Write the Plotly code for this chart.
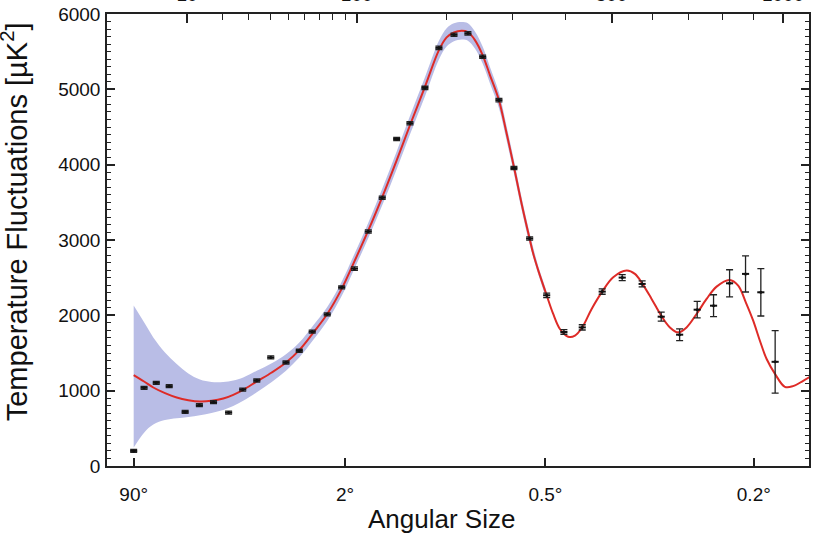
import plotly.graph_objects as go

# ---- measured band powers (multipole l, temperature fluctuations in uK^2, 1-sigma error)
data_l = [2, 3, 4.5, 6.5, 9.6, 13, 17, 22, 27.4, 33.5, 40.3, 48.6, 56.6, 65.1, 75.9, 87.2,
          98, 110.6, 124.2, 139.3, 154.1, 171.9, 189.6, 209.8, 229.6, 251.7, 277.6, 302.8,
          330.6, 362.4, 396.4, 434.6, 478.6, 525.3, 574.4, 623.9, 674, 724, 772.5, 821.9,
          872.9, 923.5, 972.4]
data_v = [200, 1038, 1104, 1060, 718, 807, 847, 709, 1015, 1135, 1441, 1374, 1530, 1783, 2013,
          2372, 2620, 3113, 3561, 4341, 4550, 5019, 5551, 5724, 5743, 5432, 4856, 3955, 3020,
          2266, 1779, 1840, 2315, 2501, 2417, 1982, 1743, 2075, 2128, 2425, 2550, 2306, 1383]
data_err = [20, 20, 20, 20, 20, 20, 20, 20, 20, 20, 20, 20, 20, 20, 20, 20,
            22, 22, 22, 22, 22, 22, 22, 22, 22, 22, 22, 22, 22,
            30, 30, 35, 35, 40, 40, 60, 78, 110, 145, 180, 240, 315, 415]

# ---- best-fit model curve
model_l = [2, 3, 4.1, 5.8, 7.87, 10.3, 13.15, 16.4, 20.15, 23.7, 27.6, 33.5, 40.8, 48.6, 56.6,
           65.1, 75.9, 87.2, 97, 110.6, 124.2, 139.3, 154.1, 171.9, 189.6, 199.8, 209.8, 220.6,
           229.6, 240, 251.7, 263.1, 277.6, 290.4, 302.8, 316.2, 330.6, 337.2, 346.6, 362.4,
           375.1, 388.4, 405.1, 419.2, 434.6, 455, 478.6, 504, 536, 556.2, 574.4, 598.6, 623.9,
           647.3, 670.1, 693.5, 722.2, 751.7, 781.8, 821.9, 849.2, 873.7, 898, 920.3, 943.1,
           972.4, 1006.5, 1036, 1072.6, 1104]
model_v = [1206, 1122, 1042, 967, 909, 874, 856, 865, 895, 945, 1011, 1122, 1241, 1374, 1539,
           1752, 2018, 2351, 2683, 3127, 3570, 4058, 4523, 5033, 5521, 5690, 5757, 5778,
           5761, 5654, 5455, 5189, 4856, 4413, 3969, 3482, 3016, 2816, 2594, 2266,
           2018, 1819, 1716, 1730, 1840, 2085, 2315, 2505, 2594, 2550, 2425, 2218, 1996,
           1840, 1774, 1840, 2018, 2218, 2381, 2470, 2395, 2173, 1929, 1663, 1420,
           1220, 1051, 1060, 1131, 1197]

# ---- cosmic variance band around the model
band_l = [2, 3, 4.1, 5.8, 7.87, 10.3, 13.15, 16.4, 20.15, 23.7, 27.6, 33.5, 40.8, 48.6, 56.6,
          65.1, 75.9, 87.2, 97, 110.6, 124.2, 139.3, 154.1, 171.9, 189.6, 199.8, 209.8, 220.6,
          229.6, 240, 251.7, 263.1, 277.6, 290.4, 302.8, 316.2, 330.6, 346.6, 362.4]
band_hi = [2129, 1907, 1707, 1507, 1353, 1228, 1148, 1115, 1115, 1135, 1175, 1265, 1365, 1485,
           1640, 1850, 2110, 2445, 2780, 3230, 3680, 4175, 4645, 5160, 5645, 5812, 5876, 5893,
           5876, 5768, 5568, 5298, 4958, 4508, 4058, 3563, 3088, 2648, 2298]
band_lo = [244, 443, 550, 610, 635, 652, 675, 705, 745, 795, 865, 980, 1115, 1265, 1440,
           1655, 1925, 2255, 2585, 3025, 3460, 3940, 4400, 4905, 5395, 5568, 5638, 5662,
           5646, 5542, 5342, 5082, 4752, 4317, 3882, 3402, 2942, 2542, 2234]

# ---- axis ticks
angle_l = [2, 90, 360, 900]
angle_text = ["90°", "2°", "0.5°", "0.2°"]
top_major_l = [10, 100, 500, 1000]
top_major_text = ["10", "100", "500", "1000"]
top_minor_l = [20, 30, 40, 50, 60, 70, 80, 90, 200, 300, 400, 600, 700, 800, 900]
y_ticks = [0, 1000, 2000, 3000, 4000, 5000, 6000]

P = 0.4  # horizontal scale is proportional to l^0.4


def sc(v):
    return [x ** P for x in v]


xr = [0.7226, 16.43]
yr = [0, 6000]
FONT = "Liberation Sans, Arial, Helvetica, sans-serif"
AX = "#222222"

fig = go.Figure()

fig.add_trace(go.Scatter(
    x=sc(band_l) + sc(band_l)[::-1], y=band_hi + band_lo[::-1],
    fill="toself", fillcolor="#b9bde6", line=dict(width=0, shape="spline"),
    mode="lines", hoverinfo="skip", showlegend=False))

fig.add_trace(go.Scatter(
    x=sc(model_l), y=model_v, mode="lines",
    line=dict(color="#de2b27", width=2, shape="spline"), showlegend=False))

fig.add_trace(go.Scatter(
    x=sc(data_l), y=data_v, mode="markers",
    marker=dict(color="#111111", size=3, symbol="circle"),
    error_y=dict(type="data", array=data_err, color=AX, thickness=1.3, width=3.5),
    error_x=dict(type="constant", value=0.08, color="#111111", thickness=2, width=0),
    showlegend=False))

# helper trace that carries the top and right axes
fig.add_trace(go.Scatter(x=xr, y=yr, xaxis="x2", yaxis="y2", mode="lines",
                         line=dict(width=0), hoverinfo="skip", showlegend=False))

fig.update_layout(
    width=813, height=535,
    margin=dict(l=107, r=4, t=14, b=69),
    paper_bgcolor="white", plot_bgcolor="white",
    font=dict(family=FONT, color="#111111", size=19),
    xaxis=dict(range=xr, tickmode="array", tickvals=sc(angle_l), ticktext=angle_text,
               ticks="inside", ticklen=8, tickwidth=1.5, tickcolor=AX,
               showline=True, linewidth=1.5, linecolor=AX, mirror=False,
               showgrid=False, zeroline=False, automargin=False,
               ticklabelstandoff=10, tickfont=dict(size=19)),
    xaxis2=dict(range=xr, overlaying="x", side="top", tickmode="array",
                tickvals=sc(top_major_l), ticktext=top_major_text,
                ticks="inside", ticklen=9, tickwidth=1.5, tickcolor=AX,
                minor=dict(tickmode="array", tickvals=sc(top_minor_l), ticks="inside",
                           ticklen=6, tickwidth=1.3, tickcolor=AX),
                showline=True, linewidth=1.5, linecolor=AX,
                showgrid=False, zeroline=False, automargin=False,
                ticklabelstandoff=4, tickfont=dict(size=19)),
    yaxis=dict(range=yr, tickmode="array", tickvals=y_ticks,
               ticks="inside", ticklen=8, tickwidth=1.5, tickcolor=AX,
               minor=dict(dtick=100, ticks="inside", ticklen=4, tickwidth=1.2,
                          tickcolor=AX),
               showline=True, linewidth=1.5, linecolor=AX, mirror=False,
               showgrid=False, zeroline=False, automargin=False,
               ticklabelstandoff=1, tickfont=dict(size=19)),
    yaxis2=dict(range=yr, overlaying="y", side="right", tickmode="array",
                tickvals=y_ticks, showticklabels=False,
                ticks="inside", ticklen=8, tickwidth=1.5, tickcolor=AX,
                minor=dict(dtick=100, ticks="inside", ticklen=4, tickwidth=1.2,
                           tickcolor=AX),
                showline=True, linewidth=1.5, linecolor=AX,
                showgrid=False, zeroline=False, automargin=False),
    annotations=[
        dict(text="Angular Size", xref="paper", yref="paper", x=0.477, y=-0.117,
             xanchor="center", yanchor="middle", showarrow=False,
             font=dict(size=26, family=FONT, color="#111")),
        dict(text="Temperature Fluctuations [µK<sup>2</sup>]", xref="paper", yref="paper",
             x=-0.132, y=0.54, textangle=-90, xanchor="center", yanchor="middle",
             showarrow=False, font=dict(size=29, family=FONT, color="#111")),
    ],
)

fig.write_html("out.html", config={"displayModeBar": False},
               post_script="document.body.style.margin='0';document.body.style.padding='0';")
